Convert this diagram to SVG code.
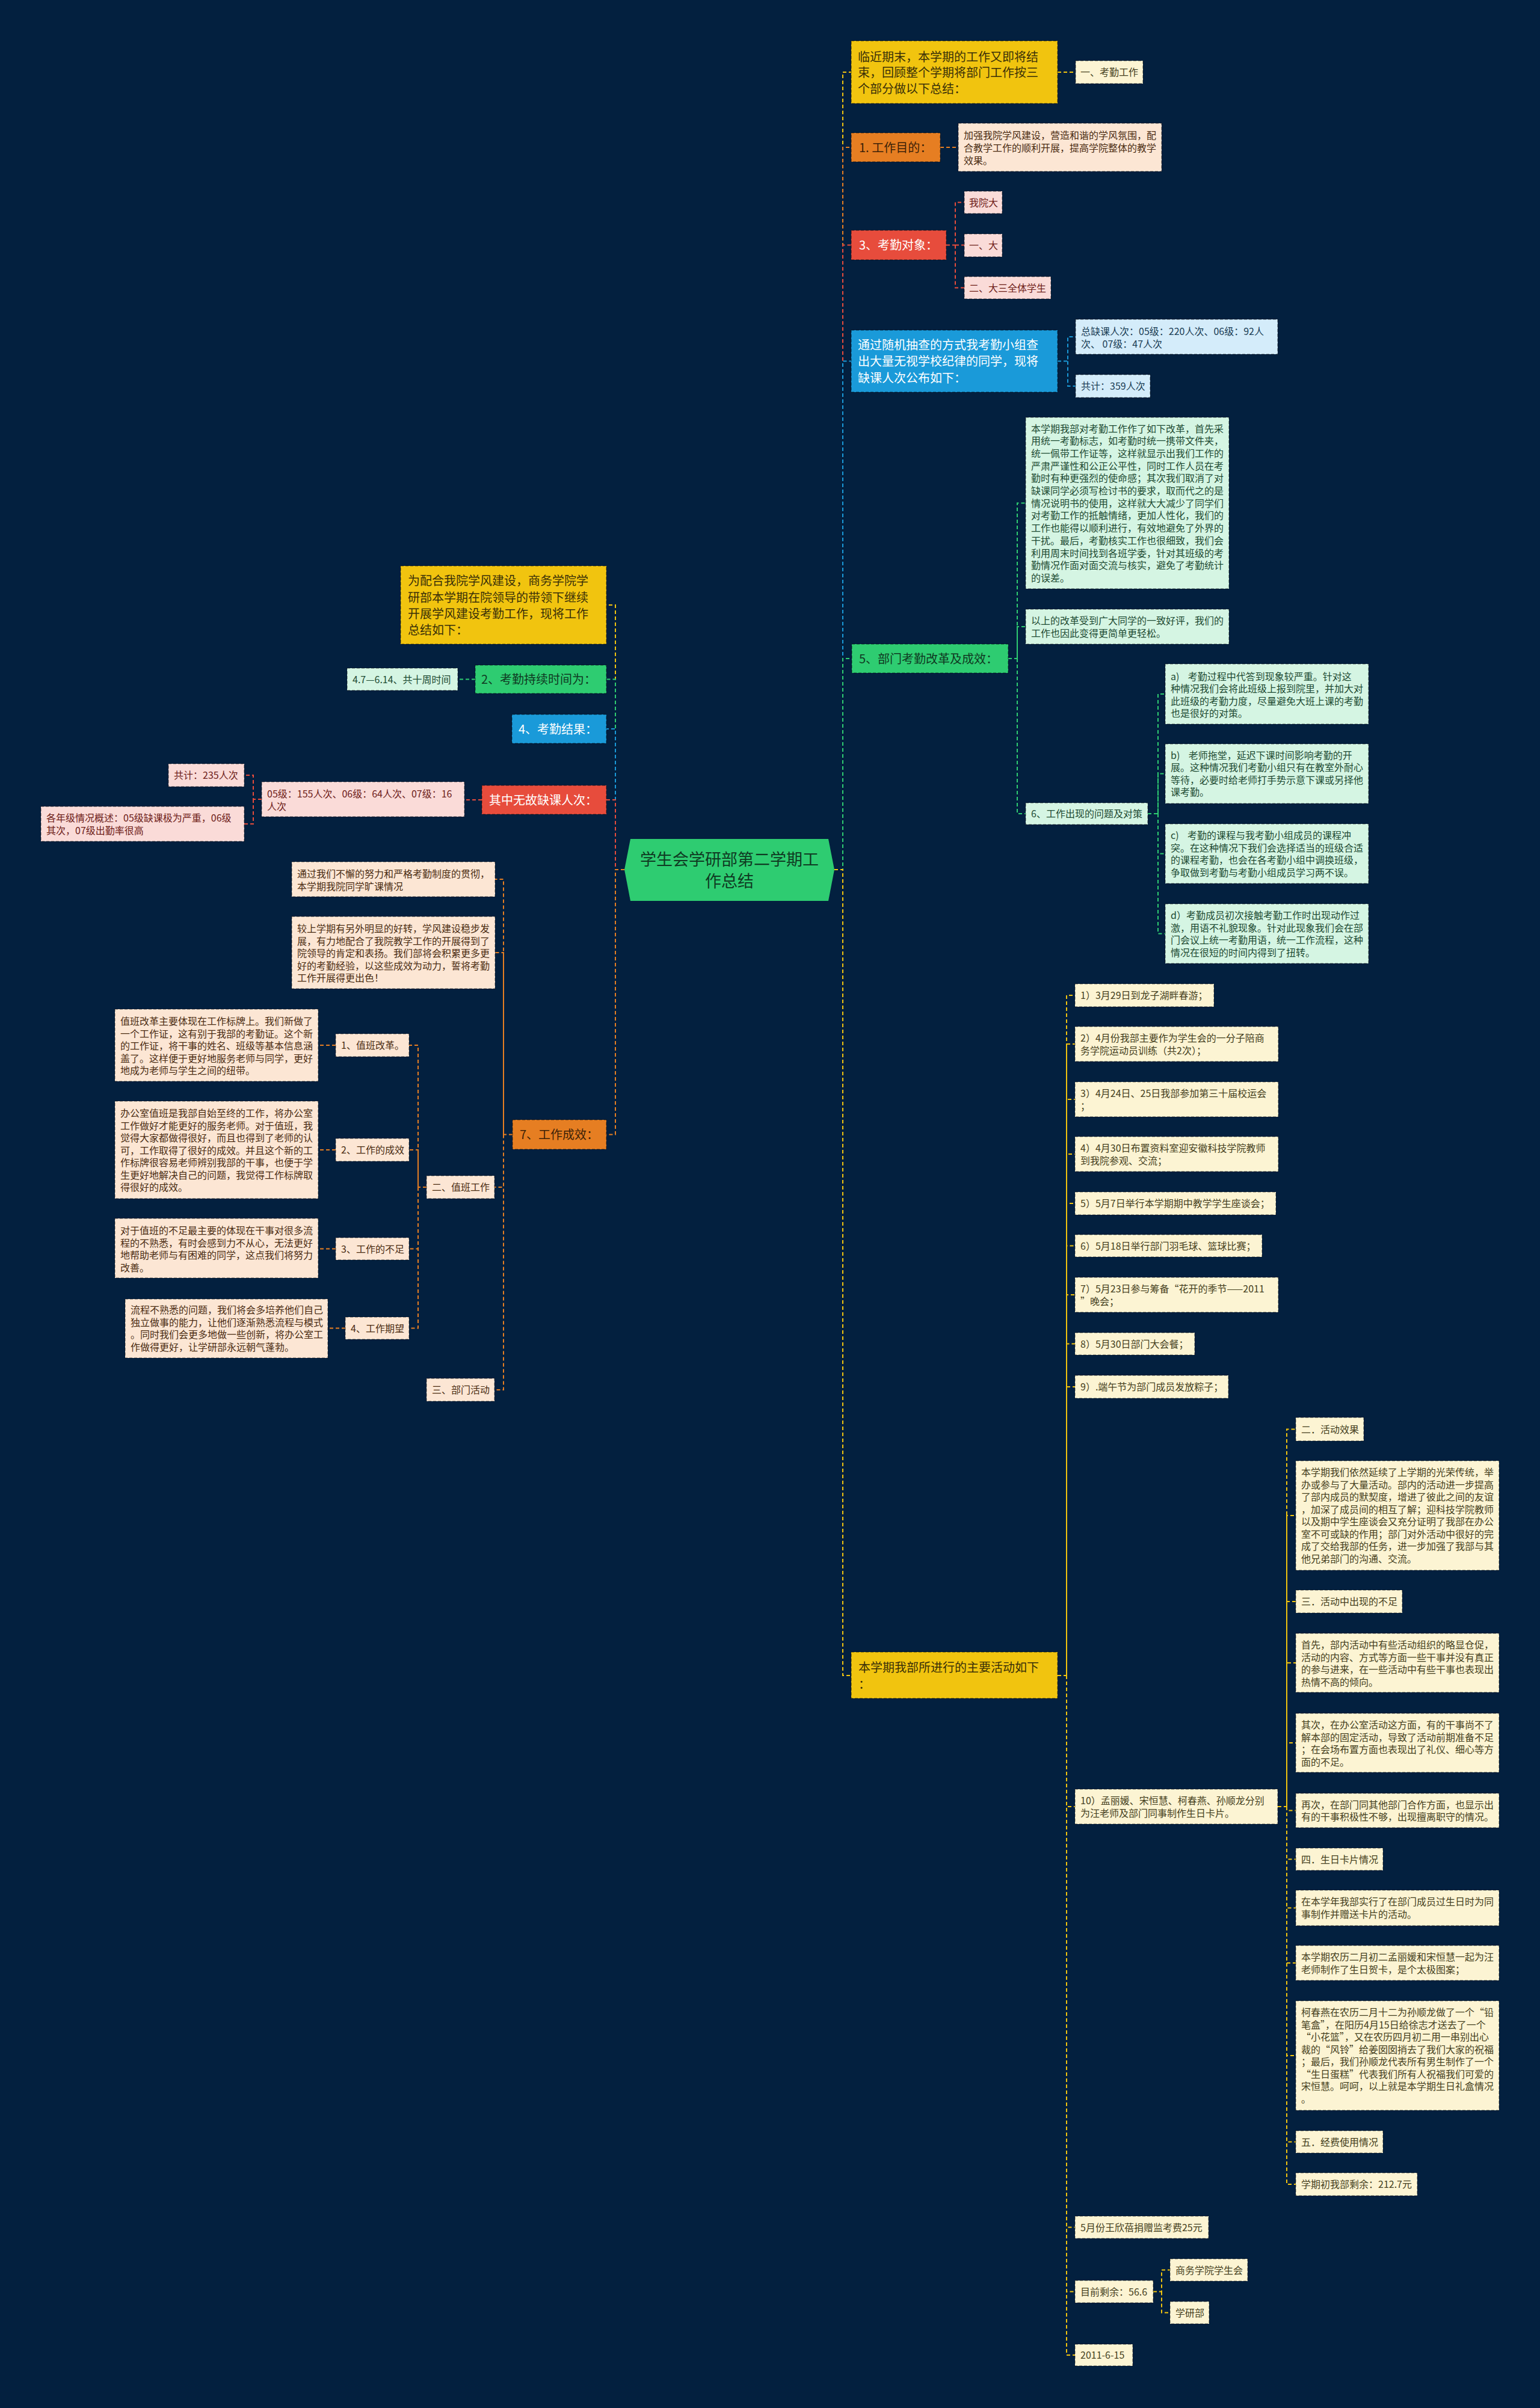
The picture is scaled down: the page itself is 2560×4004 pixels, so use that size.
<svg xmlns="http://www.w3.org/2000/svg" width="2560" height="4004" viewBox="0 0 2560 4004">
<style>
text{font-family:"Noto Sans CJK SC","Noto Sans",sans-serif}
.f20{font-size:20px}.f16{font-size:16px}.f27{font-size:27px}
.b{stroke:rgba(0,0,0,.38);stroke-width:1.5;stroke-dasharray:5 3}
.my{fill:#f1c40f}.mo{fill:#e67e22}.mr{fill:#e74c3c}.mb{fill:#1a9ad9}.mg{fill:#2ecc71}
.ly{fill:#fcf4d3}.lo{fill:#fce6d4}.lr{fill:#fadbd8}.lb{fill:#d4ecfa}.lg{fill:#d5f5e3}
.ty{fill:#3a3008}.to{fill:#3d2208}.tw{fill:#ffffff}.tg{fill:#0f3a22}
.tly{fill:#454020}.tlo{fill:#4a2c12}.tlr{fill:#6e2018}.tlb{fill:#1a3d55}.tlg{fill:#1d4a32}
.c{fill:none;stroke-width:2;stroke-dasharray:6 4}
.cy{stroke:#f1c40f}.co{stroke:#e67e22}.cr{stroke:#e74c3c}.cb{stroke:#1a9ad9}.cg{stroke:#2ecc71}
</style>
<rect x="0" y="0" width="2560" height="4004" fill="#03203f"/>

<g id="connectors">
<path class="c cy" d="M1387 1446H1401V120H1415"/>
<path class="c co" d="M1387 1446H1401V245H1415"/>
<path class="c cr" d="M1387 1446H1401V407.5H1415"/>
<path class="c cb" d="M1387 1446H1401V600.5H1415"/>
<path class="c cg" d="M1387 1446H1401V1095H1415"/>
<path class="c cy" d="M1387 1446H1401V2786H1415"/>
<path class="c cy" d="M1038 1446H1023V1006H1008"/>
<path class="c cg" d="M1038 1446H1023V1129.5H1008"/>
<path class="c cb" d="M1038 1446H1023V1212H1008"/>
<path class="c cr" d="M1038 1446H1023V1330H1008"/>
<path class="c co" d="M1038 1446H1023V1886.5H1008"/>

<path class="c cy" d="M1758 120H1788"/>
<path class="c co" d="M1563 245H1593"/>
<path class="c cr" d="M1573 407.5H1588V336.5H1603M1588 407.5H1603M1588 407.5V478.5H1603"/>
<path class="c cb" d="M1758 600.5H1775V560H1788M1775 600.5V642H1788"/>
<path class="c cg" d="M1676 1095H1691V836.5H1705M1691 1095V1042H1705M1691 1095V1353H1705"/>
<path class="c cg" d="M1908 1353H1925V1154H1937M1925 1353V1286.5H1937M1925 1353V1419.5H1937M1925 1353V1552.5H1937"/>
<path class="c cy" d="M1758 2786H1773V1655H1787M1773 2786V1736H1787M1773 2786V1828H1787M1773 2786V1919H1787M1773 2786V2001H1787M1773 2786V2071.5H1787M1773 2786V2153H1787M1773 2786V2234.5H1787M1773 2786V2306H1787M1773 2786V3004H1787M1773 2786V3703.5H1787M1773 2786V3810.5H1787M1773 2786V3916H1787"/>
<path class="c cy" d="M2124 3004H2139V2376.5H2154M2139 3004V2520H2154M2139 3004V2663H2154M2139 3004V2765H2154M2139 3004V2898H2154M2139 3004V3010.5H2154M2139 3004V3091.5H2154M2139 3004V3172.5H2154M2139 3004V3264H2154M2139 3004V3418H2154M2139 3004V3561.5H2154M2139 3004V3632H2154"/>
<path class="c cy" d="M1917 3810.5H1931V3774.5H1945M1931 3810.5V3845.5H1945"/>

<path class="c cg" d="M790 1129.5H761"/>
<path class="c cr" d="M801 1330H772"/>
<path class="c cr" d="M435 1329H421V1289H406M421 1329V1370H406"/>
<path class="c co" d="M852 1886.5H837V1462H823M837 1886.5V1584H823M837 1886.5V1974H822M837 1886.5V2311H822"/>
<path class="c co" d="M709 1974H695V1738H680M695 1974V1912H680M695 1974V2076.5H680M695 1974V2208.5H680"/>
<path class="c co" d="M558 1738H529M558 1912H529M558 2076.5H529M574 2208.5H545"/>
</g>

<g id="center">
<polygon points="1048,1395 1038,1446 1048,1498 1377,1498 1387,1446 1377,1395" fill="#2ecc71"/>
<text class="f27 tg" text-anchor="middle"><tspan x="1212.5" y="1439">学生会学研部第二学期工</tspan><tspan x="1212.5" y="1475">作总结</tspan></text>
</g>

<g id="r0"><rect class="b my" x="1415" y="68" width="343" height="104"/><text class="f20 ty"><tspan x="1426" y="101.5">临近期末，本学期的工作又即将结</tspan><tspan x="1426" y="128">束，回顾整个学期将部门工作按三</tspan><tspan x="1426" y="154.5">个部分做以下总结：</tspan></text></g>
<g id="r0a"><rect class="b ly" x="1788" y="101" width="112" height="38"/><text class="f16 tly" x="1796" y="126">一、考勤工作</text></g>
<g id="r1"><rect class="b mo" x="1415" y="221" width="148" height="48"/><text class="f20 to" x="1428" y="252.5">1. 工作目的：</text></g>
<g id="r1a"><rect class="b lo" x="1593" y="205" width="338" height="80"/><text class="f16 tlo"><tspan x="1602" y="231">加强我院学风建设，营造和谐的学风氛围，配</tspan><tspan x="1602" y="252">合教学工作的顺利开展，提高学院整体的教学</tspan><tspan x="1602" y="273">效果。</tspan></text></g>
<g id="r2"><rect class="b mr" x="1415" y="383" width="158" height="49"/><text class="f20 tw" x="1428" y="415">3、考勤对象：</text></g>
<g id="r2a"><rect class="b lr" x="1603" y="318" width="63" height="37"/><text class="f16 tlr" x="1611" y="342.5">我院大</text></g>
<g id="r2b"><rect class="b lr" x="1603" y="389" width="63" height="38"/><text class="f16 tlr" x="1611" y="414">一、大</text></g>
<g id="r2c"><rect class="b lr" x="1603" y="460" width="144" height="37"/><text class="f16 tlr" x="1611" y="484.5">二、大三全体学生</text></g>
<g id="r3"><rect class="b mb" x="1415" y="549" width="343" height="103"/><text class="f20 tw"><tspan x="1426" y="580.5">通过随机抽查的方式我考勤小组查</tspan><tspan x="1426" y="608">出大量无视学校纪律的同学，现将</tspan><tspan x="1426" y="635.5">缺课人次公布如下：</tspan></text></g>
<g id="r3a"><rect class="b lb" x="1788" y="531" width="336" height="58"/><text class="f16 tlb"><tspan x="1797" y="557">总缺课人次：05级：220人次、06级：92人</tspan><tspan x="1797" y="577.5">次、 07级：47人次</tspan></text></g>
<g id="r3b"><rect class="b lb" x="1788" y="623" width="124" height="38"/><text class="f16 tlb" x="1797" y="648">共计：359人次</text></g>
<g id="r4"><rect class="b mg" x="1416" y="1071" width="260" height="48"/><text class="f20 tg" x="1428" y="1102.5">5、部门考勤改革及成效：</text></g>
<g id="r4a"><rect class="b lg" x="1705" y="694" width="338" height="285"/><text class="f16 tlg"><tspan x="1714" y="718.5">本学期我部对考勤工作作了如下改革，首先采</tspan><tspan x="1714" y="739.2">用统一考勤标志，如考勤时统一携带文件夹，</tspan><tspan x="1714" y="759.9">统一佩带工作证等，这样就显示出我们工作的</tspan><tspan x="1714" y="780.6">严肃严谨性和公正公平性，同时工作人员在考</tspan><tspan x="1714" y="801.3">勤时有种更强烈的使命感；其次我们取消了对</tspan><tspan x="1714" y="822">缺课同学必须写检讨书的要求，取而代之的是</tspan><tspan x="1714" y="842.7">情况说明书的使用，这样就大大减少了同学们</tspan><tspan x="1714" y="863.4">对考勤工作的抵触情绪，更加人性化，我们的</tspan><tspan x="1714" y="884.1">工作也能得以顺利进行，有效地避免了外界的</tspan><tspan x="1714" y="904.8">干扰。最后，考勤核实工作也很细致，我们会</tspan><tspan x="1714" y="925.5">利用周末时间找到各班学委，针对其班级的考</tspan><tspan x="1714" y="946.2">勤情况作面对面交流与核实，避免了考勤统计</tspan><tspan x="1714" y="966.9">的误差。</tspan></text></g>
<g id="r4b"><rect class="b lg" x="1705" y="1013" width="338" height="58"/><text class="f16 tlg"><tspan x="1714" y="1038">以上的改革受到广大同学的一致好评，我们的</tspan><tspan x="1714" y="1058.5">工作也因此变得更简单更轻松。</tspan></text></g>
<g id="r4c"><rect class="b lg" x="1705" y="1335" width="203" height="36"/><text class="f16 tlg" x="1714" y="1359">6、工作出现的问题及对策</text></g>
<g id="r4c1"><rect class="b lg" x="1937" y="1104" width="338" height="100"/><text class="f16 tlg" xml:space="preserve"><tspan x="1946" y="1131">a)    考勤过程中代答到现象较严重。针对这</tspan><tspan x="1946" y="1151">种情况我们会将此班级上报到院里，并加大对</tspan><tspan x="1946" y="1171.5">此班级的考勤力度，尽量避免大班上课的考勤</tspan><tspan x="1946" y="1192">也是很好的对策。</tspan></text></g>
<g id="r4c2"><rect class="b lg" x="1937" y="1237" width="338" height="99"/><text class="f16 tlg" xml:space="preserve"><tspan x="1946" y="1261.5">b)    老师拖堂，延迟下课时间影响考勤的开</tspan><tspan x="1946" y="1282">展。这种情况我们考勤小组只有在教室外耐心</tspan><tspan x="1946" y="1302.5">等待，必要时给老师打手势示意下课或另择他</tspan><tspan x="1946" y="1323">课考勤。</tspan></text></g>
<g id="r4c3"><rect class="b lg" x="1937" y="1370" width="338" height="99"/><text class="f16 tlg" xml:space="preserve"><tspan x="1946" y="1395">c)    考勤的课程与我考勤小组成员的课程冲</tspan><tspan x="1946" y="1415.5">突。在这种情况下我们会选择适当的班级合适</tspan><tspan x="1946" y="1436">的课程考勤，也会在各考勤小组中调换班级，</tspan><tspan x="1946" y="1456.5">争取做到考勤与考勤小组成员学习两不误。</tspan></text></g>
<g id="r4c4"><rect class="b lg" x="1937" y="1503" width="338" height="99"/><text class="f16 tlg"><tspan x="1946" y="1528">d）考勤成员初次接触考勤工作时出现动作过</tspan><tspan x="1946" y="1548.5">激，用语不礼貌现象。针对此现象我们会在部</tspan><tspan x="1946" y="1569">门会议上统一考勤用语，统一工作流程，这种</tspan><tspan x="1946" y="1589.5">情况在很短的时间内得到了扭转。</tspan></text></g>

<g id="r5"><rect class="b my" x="1415" y="2747" width="343" height="77"/><text class="f20 ty"><tspan x="1427" y="2779.5">本学期我部所进行的主要活动如下</tspan><tspan x="1427" y="2807.5">：</tspan></text></g>
<g id="a1"><rect class="b ly" x="1787" y="1636" width="231" height="38"/><text class="f16 tly" x="1796" y="1661">1）3月29日到龙子湖畔春游；</text></g>
<g id="a2"><rect class="b ly" x="1787" y="1707" width="338" height="58"/><text class="f16 tly"><tspan x="1796" y="1732">2）4月份我部主要作为学生会的一分子陪商</tspan><tspan x="1796" y="1752.5">务学院运动员训练（共2次）；</tspan></text></g>
<g id="a3"><rect class="b ly" x="1787" y="1799" width="338" height="58"/><text class="f16 tly"><tspan x="1796" y="1824">3）4月24日、25日我部参加第三十届校运会</tspan><tspan x="1796" y="1844.5">；</tspan></text></g>
<g id="a4"><rect class="b ly" x="1787" y="1890" width="338" height="58"/><text class="f16 tly"><tspan x="1796" y="1915">4）4月30日布置资料室迎安徽科技学院教师</tspan><tspan x="1796" y="1935.5">到我院参观、交流；</tspan></text></g>
<g id="a5"><rect class="b ly" x="1787" y="1982" width="334" height="38"/><text class="f16 tly" x="1796" y="2007">5）5月7日举行本学期期中教学学生座谈会；</text></g>
<g id="a6"><rect class="b ly" x="1787" y="2053" width="311" height="37"/><text class="f16 tly" x="1796" y="2077.5">6）5月18日举行部门羽毛球、篮球比赛；</text></g>
<g id="a7"><rect class="b ly" x="1787" y="2124" width="338" height="58"/><text class="f16 tly"><tspan x="1796" y="2149">7）5月23日参与筹备“花开的季节——2011</tspan><tspan x="1796" y="2169.5">”晚会；</tspan></text></g>
<g id="a8"><rect class="b ly" x="1787" y="2216" width="199" height="37"/><text class="f16 tly" x="1796" y="2240.5">8）5月30日部门大会餐；</text></g>
<g id="a9"><rect class="b ly" x="1787" y="2287" width="255" height="38"/><text class="f16 tly" x="1796" y="2312">9）.端午节为部门成员发放粽子；</text></g>
<g id="a10"><rect class="b ly" x="1787" y="2975" width="337" height="58"/><text class="f16 tly"><tspan x="1796" y="3000">10）孟丽媛、宋恒慧、柯春燕、孙顺龙分别</tspan><tspan x="1796" y="3020.5">为汪老师及部门同事制作生日卡片。</tspan></text></g>
<g id="a11"><rect class="b ly" x="1787" y="3685" width="222" height="37"/><text class="f16 tly" x="1796" y="3709.5">5月份王欣蓓捐赠监考费25元</text></g>
<g id="a12"><rect class="b ly" x="1787" y="3792" width="130" height="37"/><text class="f16 tly" x="1796" y="3816.5">目前剩余：56.6</text></g>
<g id="a12a"><rect class="b ly" x="1945" y="3756" width="129" height="37"/><text class="f16 tly" x="1954" y="3780.5">商务学院学生会</text></g>
<g id="a12b"><rect class="b ly" x="1945" y="3827" width="65" height="37"/><text class="f16 tly" x="1954" y="3851.5">学研部</text></g>
<g id="a13"><rect class="b ly" x="1787" y="3898" width="96" height="36"/><text class="f16 tly" x="1796" y="3922">2011-6-15</text></g>

<g id="b1"><rect class="b ly" x="2154" y="2357" width="113" height="39"/><text class="f16 tly" x="2163" y="2382.5">二．活动效果</text></g>
<g id="b2"><rect class="b ly" x="2154" y="2429" width="338" height="182"/><text class="f16 tly"><tspan x="2163" y="2454">本学期我们依然延续了上学期的光荣传统，举</tspan><tspan x="2163" y="2474.5">办或参与了大量活动。部内的活动进一步提高</tspan><tspan x="2163" y="2495">了部内成员的默契度，增进了彼此之间的友谊</tspan><tspan x="2163" y="2515.5">，加深了成员间的相互了解；迎科技学院教师</tspan><tspan x="2163" y="2536">以及期中学生座谈会又充分证明了我部在办公</tspan><tspan x="2163" y="2556.5">室不可或缺的作用；部门对外活动中很好的完</tspan><tspan x="2163" y="2577">成了交给我部的任务，进一步加强了我部与其</tspan><tspan x="2163" y="2597.5">他兄弟部门的沟通、交流。</tspan></text></g>
<g id="b3"><rect class="b ly" x="2154" y="2644" width="177" height="38"/><text class="f16 tly" x="2163" y="2669">三．活动中出现的不足</text></g>
<g id="b4"><rect class="b ly" x="2154" y="2716" width="338" height="98"/><text class="f16 tly"><tspan x="2163" y="2741">首先，部内活动中有些活动组织的略显仓促，</tspan><tspan x="2163" y="2761.5">活动的内容、方式等方面一些干事并没有真正</tspan><tspan x="2163" y="2782">的参与进来，在一些活动中有些干事也表现出</tspan><tspan x="2163" y="2802.5">热情不高的倾向。</tspan></text></g>
<g id="b5"><rect class="b ly" x="2154" y="2849" width="338" height="98"/><text class="f16 tly"><tspan x="2163" y="2874">其次，在办公室活动这方面，有的干事尚不了</tspan><tspan x="2163" y="2894.5">解本部的固定活动，导致了活动前期准备不足</tspan><tspan x="2163" y="2915">；在会场布置方面也表现出了礼仪、细心等方</tspan><tspan x="2163" y="2935.5">面的不足。</tspan></text></g>
<g id="b6"><rect class="b ly" x="2154" y="2982" width="338" height="57"/><text class="f16 tly"><tspan x="2163" y="3006.5">再次，在部门同其他部门合作方面，也显示出</tspan><tspan x="2163" y="3027">有的干事积极性不够，出现擅离职守的情况。</tspan></text></g>
<g id="b7"><rect class="b ly" x="2154" y="3073" width="145" height="37"/><text class="f16 tly" x="2163" y="3097.5">四．生日卡片情况</text></g>
<g id="b8"><rect class="b ly" x="2154" y="3143" width="338" height="59"/><text class="f16 tly"><tspan x="2163" y="3168">在本学年我部实行了在部门成员过生日时为同</tspan><tspan x="2163" y="3188.5">事制作并赠送卡片的活动。</tspan></text></g>
<g id="b9"><rect class="b ly" x="2154" y="3235" width="338" height="58"/><text class="f16 tly"><tspan x="2163" y="3260">本学期农历二月初二孟丽媛和宋恒慧一起为汪</tspan><tspan x="2163" y="3280.5">老师制作了生日贺卡，是个太极图案；</tspan></text></g>
<g id="b10"><rect class="b ly" x="2154" y="3327" width="338" height="182"/><text class="f16 tly"><tspan x="2163" y="3352">柯春燕在农历二月十二为孙顺龙做了一个“铅</tspan><tspan x="2163" y="3372.5">笔盒”，在阳历4月15日给徐志才送去了一个</tspan><tspan x="2163" y="3393">“小花篮”，又在农历四月初二用一串别出心</tspan><tspan x="2163" y="3413.5">裁的“风铃”给姜囡囡捎去了我们大家的祝福</tspan><tspan x="2163" y="3434">；最后，我们孙顺龙代表所有男生制作了一个</tspan><tspan x="2163" y="3454.5">“生日蛋糕”代表我们所有人祝福我们可爱的</tspan><tspan x="2163" y="3475">宋恒慧。呵呵，以上就是本学期生日礼盒情况</tspan><tspan x="2163" y="3495.5">。</tspan></text></g>
<g id="b11"><rect class="b ly" x="2154" y="3543" width="145" height="37"/><text class="f16 tly" x="2163" y="3567.5">五．经费使用情况</text></g>
<g id="b12"><rect class="b ly" x="2154" y="3613" width="202" height="38"/><text class="f16 tly" x="2163" y="3638">学期初我部剩余：212.7元</text></g>

<g id="l0"><rect class="b my" x="666" y="941" width="342" height="130"/><text class="f20 ty"><tspan x="678" y="972.5">为配合我院学风建设，商务学院学</tspan><tspan x="678" y="1000.5">研部本学期在院领导的带领下继续</tspan><tspan x="678" y="1027.5">开展学风建设考勤工作，现将工作</tspan><tspan x="678" y="1054.5">总结如下：</tspan></text></g>
<g id="l1"><rect class="b mg" x="790" y="1106" width="218" height="47"/><text class="f20 tg" x="800" y="1137">2、考勤持续时间为：</text></g>
<g id="l1a"><rect class="b lg" x="577" y="1111" width="184" height="37"/><text class="f16 tlg" x="586" y="1135.5">4.7—6.14、共十周时间</text></g>
<g id="l2"><rect class="b mb" x="851" y="1188" width="157" height="48"/><text class="f20 tw" x="862" y="1219.5">4、考勤结果：</text></g>
<g id="l3"><rect class="b mr" x="801" y="1306" width="207" height="48"/><text class="f20 tw" x="813" y="1337.5">其中无故缺课人次：</text></g>
<g id="l3a"><rect class="b lr" x="435" y="1300" width="337" height="58"/><text class="f16 tlr"><tspan x="444" y="1326">05级：155人次、06级：64人次、07级：16</tspan><tspan x="444" y="1346.5">人次</tspan></text></g>
<g id="l3b"><rect class="b lr" x="280" y="1270" width="126" height="38"/><text class="f16 tlr" x="289" y="1295">共计：235人次</text></g>
<g id="l3c"><rect class="b lr" x="68" y="1341" width="338" height="58"/><text class="f16 tlr"><tspan x="77" y="1366">各年级情况概述：05级缺课极为严重，06级</tspan><tspan x="77" y="1386.5">其次，07级出勤率很高</tspan></text></g>
<g id="l4"><rect class="b mo" x="852" y="1862" width="156" height="49"/><text class="f20 to" x="864" y="1894">7、工作成效：</text></g>
<g id="l4a"><rect class="b lo" x="485" y="1433" width="338" height="58"/><text class="f16 tlo"><tspan x="494" y="1459">通过我们不懈的努力和严格考勤制度的贯彻，</tspan><tspan x="494" y="1479.5">本学期我院同学旷课情况</tspan></text></g>
<g id="l4b"><rect class="b lo" x="485" y="1524" width="338" height="120"/><text class="f16 tlo"><tspan x="494" y="1550">较上学期有另外明显的好转，学风建设稳步发</tspan><tspan x="494" y="1570.5">展，有力地配合了我院教学工作的开展得到了</tspan><tspan x="494" y="1591">院领导的肯定和表扬。我们部将会积累更多更</tspan><tspan x="494" y="1611.5">好的考勤经验，以这些成效为动力，誓将考勤</tspan><tspan x="494" y="1632">工作开展得更出色！</tspan></text></g>
<g id="l4c"><rect class="b lo" x="709" y="1955" width="113" height="38"/><text class="f16 tlo" x="718" y="1980">二、值班工作</text></g>
<g id="l4d"><rect class="b lo" x="709" y="2292" width="113" height="38"/><text class="f16 tlo" x="718" y="2317">三、部门活动</text></g>
<g id="l5a"><rect class="b lo" x="558" y="1719" width="122" height="38"/><text class="f16 tlo" x="567" y="1744">1、值班改革。</text></g>
<g id="l5b"><rect class="b lo" x="558" y="1893" width="122" height="38"/><text class="f16 tlo" x="567" y="1918">2、工作的成效</text></g>
<g id="l5c"><rect class="b lo" x="558" y="2058" width="122" height="37"/><text class="f16 tlo" x="567" y="2082.5">3、工作的不足</text></g>
<g id="l5d"><rect class="b lo" x="574" y="2190" width="106" height="37"/><text class="f16 tlo" x="583" y="2214.5">4、工作期望</text></g>
<g id="t1"><rect class="b lo" x="191" y="1678" width="338" height="120"/><text class="f16 tlo"><tspan x="200" y="1704">值班改革主要体现在工作标牌上。我们新做了</tspan><tspan x="200" y="1724.5">一个工作证，这有别于我部的考勤证。这个新</tspan><tspan x="200" y="1745">的工作证，将干事的姓名、班级等基本信息涵</tspan><tspan x="200" y="1765.5">盖了。这样便于更好地服务老师与同学，更好</tspan><tspan x="200" y="1786">地成为老师与学生之间的纽带。</tspan></text></g>
<g id="t2"><rect class="b lo" x="191" y="1831" width="338" height="162"/><text class="f16 tlo"><tspan x="200" y="1857">办公室值班是我部自始至终的工作，将办公室</tspan><tspan x="200" y="1877.5">工作做好才能更好的服务老师。对于值班，我</tspan><tspan x="200" y="1898">觉得大家都做得很好，而且也得到了老师的认</tspan><tspan x="200" y="1918.5">可，工作取得了很好的成效。并且这个新的工</tspan><tspan x="200" y="1939">作标牌很容易老师辨别我部的干事，也便于学</tspan><tspan x="200" y="1959.5">生更好地解决自己的问题，我觉得工作标牌取</tspan><tspan x="200" y="1980">得很好的成效。</tspan></text></g>
<g id="t3"><rect class="b lo" x="191" y="2026" width="338" height="99"/><text class="f16 tlo"><tspan x="200" y="2052">对于值班的不足最主要的体现在干事对很多流</tspan><tspan x="200" y="2072.5">程的不熟悉，有时会感到力不从心，无法更好</tspan><tspan x="200" y="2093">地帮助老师与有困难的同学，这点我们将努力</tspan><tspan x="200" y="2113.5">改善。</tspan></text></g>
<g id="t4"><rect class="b lo" x="208" y="2160" width="337" height="98"/><text class="f16 tlo"><tspan x="217" y="2184">流程不熟悉的问题，我们将会多培养他们自己</tspan><tspan x="217" y="2204.5">独立做事的能力，让他们逐渐熟悉流程与模式</tspan><tspan x="217" y="2225">。同时我们会更多地做一些创新，将办公室工</tspan><tspan x="217" y="2245.5">作做得更好，让学研部永远朝气蓬勃。</tspan></text></g>
</svg>
